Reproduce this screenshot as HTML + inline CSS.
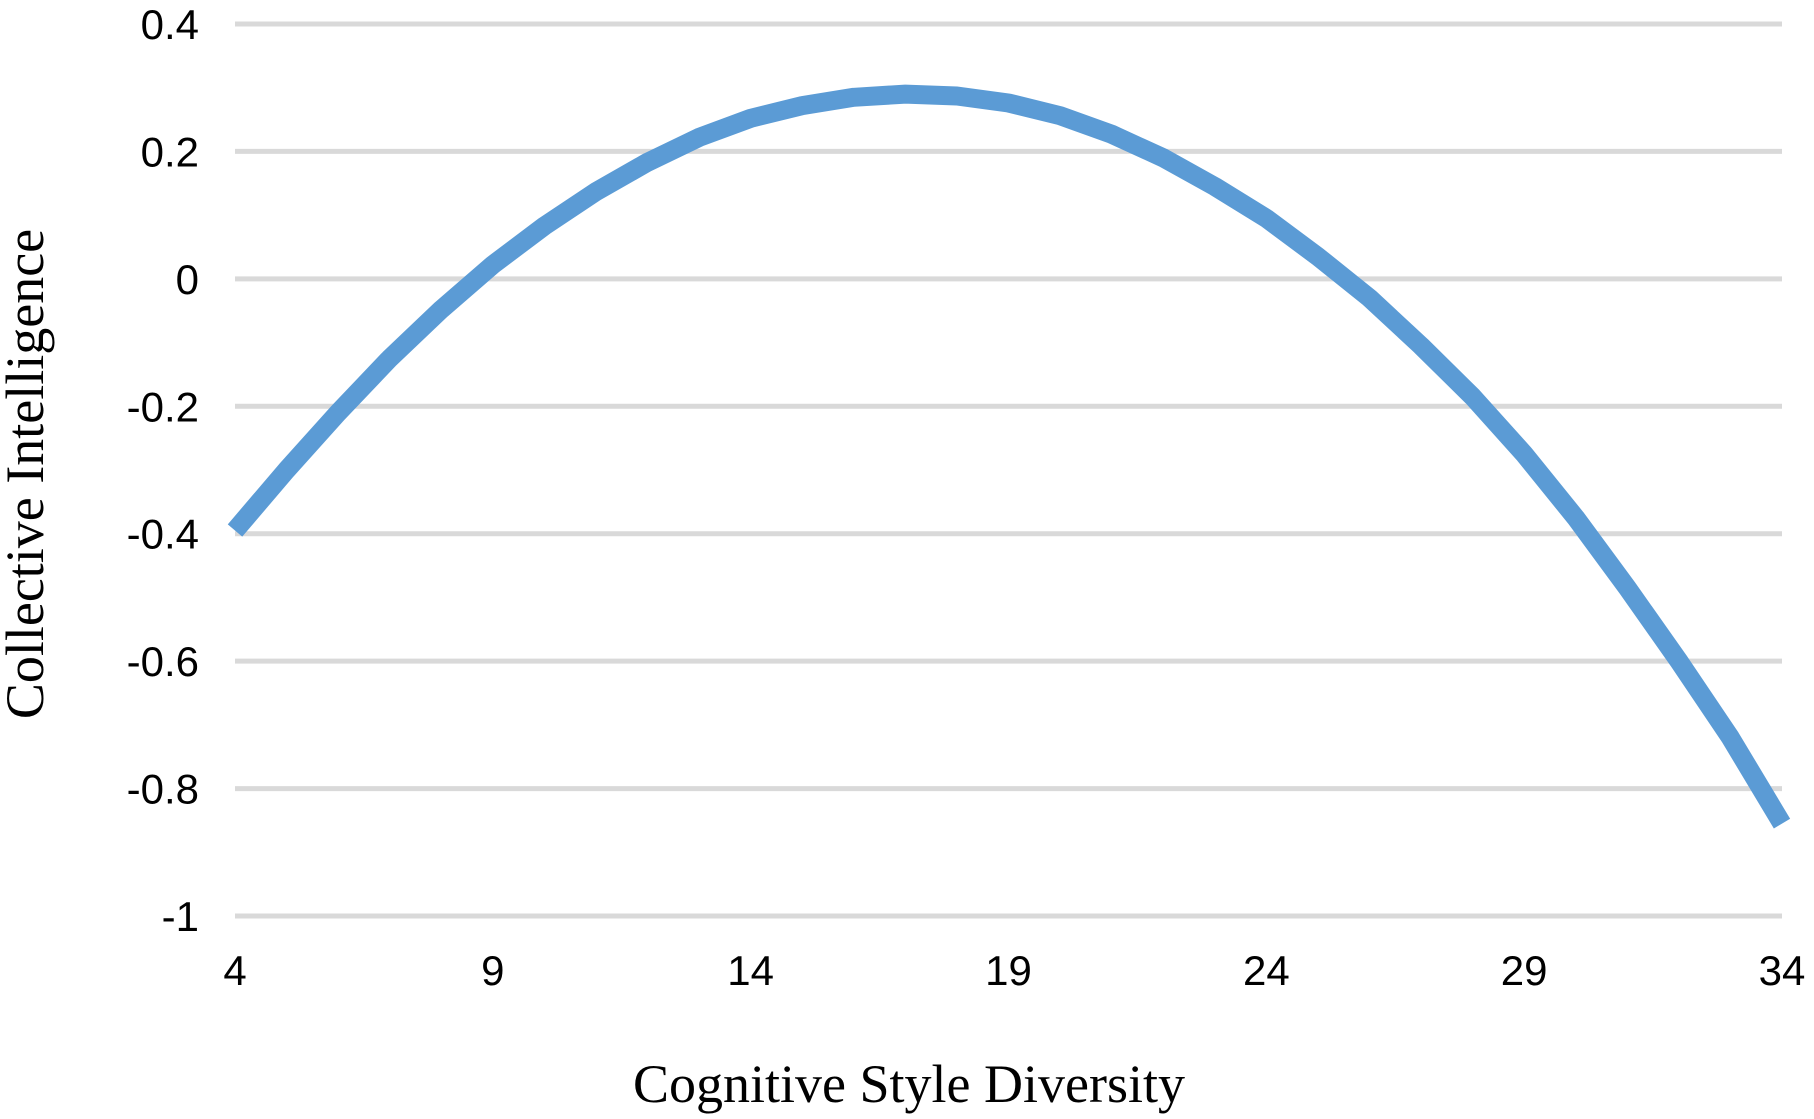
<!DOCTYPE html>
<html><head><meta charset="utf-8"><style>
html,body{margin:0;padding:0;background:#fff;}
svg{display:block;}
</style></head><body>
<svg id="chart" width="1814" height="1119" viewBox="0 0 1814 1119" xmlns="http://www.w3.org/2000/svg">
<g id="grid"></g>
<g id="yticks"></g>
<g id="xticks"></g>
<g id="series"></g>
<text x="909" y="1102" text-anchor="middle" font-family="Liberation Serif, serif" font-size="54">Cognitive Style Diversity</text>
<text transform="translate(43,474) rotate(-90)" text-anchor="middle" font-family="Liberation Serif, serif" font-size="54">Collective Intelligence</text>
</svg>
<script>
const xValues = [4,5,6,7,8,9,10,11,12,13,14,15,16,17,18,19,20,21,22,23,24,25,26,27,28,29,30,31,32,33,34];
const yValues = [-0.395,-0.30,-0.21,-0.125,-0.048,0.022,0.083,0.137,0.183,0.222,0.252,0.272,0.285,0.29,0.287,0.276,0.256,0.227,0.19,0.145,0.095,0.035,-0.03,-0.105,-0.185,-0.275,-0.375,-0.485,-0.60,-0.72,-0.855];
const yTickValues = [0.4,0.2,0,-0.2,-0.4,-0.6,-0.8,-1];
const yTickLabels = ["0.4","0.2","0","-0.2","-0.4","-0.6","-0.8","-1"];
const xTickValues = [4,9,14,19,24,29,34];
const xTickLabels = ["4","9","14","19","24","29","34"];

const L=235, R=1782, T=24, B=916;
const xMin=4, xMax=34, yMin=-1, yMax=0.4;
function sx(v){return L+(v-xMin)/(xMax-xMin)*(R-L);}
function sy(v){return B-(v-yMin)/(yMax-yMin)*(B-T);}
const NS="http://www.w3.org/2000/svg";
function mk(tag,attrs,parent){const e=document.createElementNS(NS,tag);for(const k in attrs)e.setAttribute(k,attrs[k]);parent.appendChild(e);return e;}

const grid=document.getElementById('grid'), yt=document.getElementById('yticks'), xt=document.getElementById('xticks'), ser=document.getElementById('series');
yTickValues.forEach((v,i)=>{
  const l=mk('line',{x1:L,x2:R,y1:sy(v),y2:sy(v),stroke:'#d9d9d9','stroke-width':5},grid);
  
  
  const t=mk('text',{x:199,y:sy(v)+15,'text-anchor':'end','font-family':'Liberation Sans, sans-serif','font-size':42},yt);
  t.textContent=yTickLabels[i];
  
  
});
xTickValues.forEach((v,i)=>{
  const t=mk('text',{x:sx(v),y:985,'text-anchor':'middle','font-family':'Liberation Sans, sans-serif','font-size':42},xt);
  t.textContent=xTickLabels[i];
  
  
});
const d=xValues.map((x,i)=>(i?'L':'M')+sx(x).toFixed(1)+','+sy(yValues[i]).toFixed(1)).join(' ');
const p=mk('path',{d:d,fill:'none',stroke:'#5b9bd5','stroke-width':19,'stroke-linejoin':'round','stroke-linecap':'butt'},ser);


</script>
</body></html>
